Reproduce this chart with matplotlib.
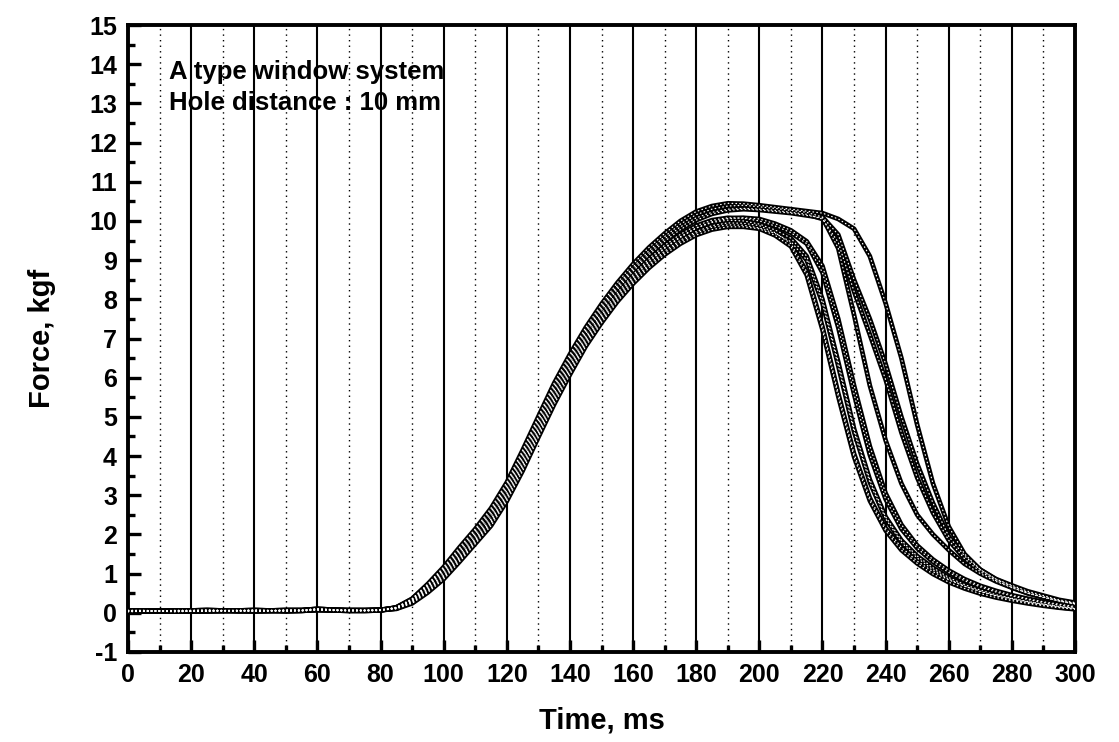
import numpy as np
import matplotlib.pyplot as plt
from matplotlib.ticker import MultipleLocator

plt.rcParams['font.family'] = ['Liberation Sans', 'DejaVu Sans']
plt.rcParams['font.weight'] = 'bold'
plt.rcParams['axes.unicode_minus'] = False

# vreme uzorkovanja, ms
time_ms = np.arange(0, 305, 5)

# sila, kgf -- 10 ponavljanja (ocitano sa slike)
run_1 = [0.05, 0.04, 0.05, 0.05, 0.04, 0.05, 0.05, 0.06, 0.05, 0.05, 0.06, 0.06, 0.09, 0.07, 0.06, 0.06, 0.07,
         0.10, 0.24, 0.52, 0.86, 1.30, 1.76, 2.22, 2.85, 3.62, 4.48, 5.32, 6.08, 6.80, 7.40, 7.94, 8.40, 8.80,
         9.14, 9.42, 9.64, 9.78, 9.85, 9.85,
         9.80, 9.63, 9.35, 8.62, 7.22, 5.52, 3.98, 2.86, 2.10, 1.60, 1.26, 0.99, 0.78, 0.62, 0.49, 0.39, 0.31,
         0.24, 0.18, 0.13, 0.09]
run_2 = [0.03, 0.04, 0.04, 0.03, 0.04, 0.04, 0.05, 0.04, 0.04, 0.05, 0.04, 0.05, 0.07, 0.06, 0.05, 0.05, 0.06,
         0.11, 0.27, 0.57, 0.93, 1.38, 1.83, 2.31, 2.95, 3.74, 4.59, 5.44, 6.19, 6.90, 7.50, 8.03, 8.49, 8.89,
         9.23, 9.51, 9.73, 9.88, 9.95, 9.94,
         9.88, 9.70, 9.42, 8.70, 7.30, 5.60, 4.06, 2.93, 2.16, 1.67, 1.32, 1.05, 0.84, 0.68, 0.55, 0.44, 0.36,
         0.28, 0.22, 0.16, 0.12]
run_3 = [0.06, 0.06, 0.05, 0.06, 0.06, 0.07, 0.06, 0.06, 0.07, 0.06, 0.07, 0.07, 0.10, 0.08, 0.07, 0.07, 0.08,
         0.12, 0.30, 0.62, 1.00, 1.45, 1.90, 2.40, 3.05, 3.85, 4.70, 5.55, 6.30, 7.00, 7.60, 8.12, 8.58, 8.98,
         9.32, 9.60, 9.82, 9.96, 10.02, 10.00,
         9.92, 9.77, 9.56, 9.10, 8.00, 6.40, 4.70, 3.40, 2.45, 1.85, 1.45, 1.15, 0.90, 0.72, 0.58, 0.46, 0.37,
         0.29, 0.22, 0.16, 0.11]
run_4 = [0.05, 0.04, 0.05, 0.05, 0.04, 0.05, 0.05, 0.06, 0.05, 0.05, 0.06, 0.06, 0.09, 0.07, 0.06, 0.06, 0.07,
         0.11, 0.26, 0.55, 0.90, 1.34, 1.79, 2.27, 2.90, 3.68, 4.53, 5.38, 6.14, 6.85, 7.45, 7.98, 8.45, 8.85,
         9.19, 9.47, 9.69, 9.84, 9.90, 9.89,
         9.82, 9.68, 9.47, 9.00, 7.90, 6.30, 4.62, 3.33, 2.40, 1.80, 1.40, 1.10, 0.86, 0.68, 0.54, 0.43, 0.34,
         0.26, 0.20, 0.14, 0.10]
run_5 = [0.03, 0.04, 0.04, 0.03, 0.04, 0.04, 0.05, 0.04, 0.04, 0.05, 0.04, 0.05, 0.07, 0.06, 0.05, 0.05, 0.06,
         0.13, 0.32, 0.66, 1.04, 1.50, 1.95, 2.46, 3.11, 3.92, 4.76, 5.61, 6.36, 7.05, 7.65, 8.17, 8.63, 9.03,
         9.38, 9.66, 9.88, 10.02, 10.08, 10.07,
         10.00, 9.87, 9.70, 9.42, 8.68, 7.28, 5.58, 4.03, 2.90, 2.14, 1.65, 1.30, 1.03, 0.82, 0.66, 0.53, 0.43,
         0.34, 0.26, 0.20, 0.14]
run_6 = [0.06, 0.06, 0.05, 0.06, 0.06, 0.07, 0.06, 0.06, 0.07, 0.06, 0.07, 0.07, 0.10, 0.08, 0.07, 0.07, 0.08,
         0.12, 0.29, 0.60, 0.96, 1.41, 1.86, 2.35, 3.00, 3.79, 4.64, 5.49, 6.25, 6.95, 7.55, 8.08, 8.54, 8.95,
         9.30, 9.58, 9.82, 9.98, 10.06, 10.08,
         10.05, 9.93, 9.76, 9.48, 8.85, 7.50, 5.80, 4.25, 3.05, 2.25, 1.72, 1.36, 1.08, 0.86, 0.69, 0.56, 0.45,
         0.36, 0.28, 0.22, 0.16]
run_7 = [0.05, 0.04, 0.05, 0.05, 0.04, 0.05, 0.05, 0.06, 0.05, 0.05, 0.06, 0.06, 0.09, 0.07, 0.06, 0.06, 0.07,
         0.13, 0.33, 0.68, 1.08, 1.55, 2.00, 2.52, 3.17, 3.98, 4.83, 5.68, 6.42, 7.12, 7.72, 8.25, 8.72, 9.13,
         9.48, 9.78, 10.02, 10.18, 10.27, 10.30,
         10.28, 10.24, 10.20, 10.14, 10.08, 9.30, 7.60, 5.80, 4.40, 3.30, 2.50, 2.00, 1.60, 1.25, 1.00, 0.80, 0.64,
         0.50, 0.40, 0.30, 0.22]
run_8 = [0.03, 0.04, 0.04, 0.03, 0.04, 0.04, 0.05, 0.04, 0.04, 0.05, 0.04, 0.05, 0.07, 0.06, 0.05, 0.05, 0.06,
         0.14, 0.35, 0.72, 1.14, 1.63, 2.10, 2.62, 3.28, 4.10, 4.96, 5.80, 6.54, 7.22, 7.82, 8.35, 8.82, 9.24,
         9.60, 9.92, 10.16, 10.30, 10.38, 10.40,
         10.36, 10.32, 10.27, 10.22, 10.10, 9.65, 8.50, 7.50, 6.35, 5.00, 3.80, 2.80, 1.95, 1.45, 1.10, 0.85, 0.68,
         0.52, 0.41, 0.31, 0.24]
run_9 = [0.06, 0.06, 0.05, 0.06, 0.06, 0.07, 0.06, 0.06, 0.07, 0.06, 0.07, 0.07, 0.10, 0.08, 0.07, 0.07, 0.08,
         0.13, 0.34, 0.70, 1.11, 1.59, 2.05, 2.57, 3.23, 4.04, 4.90, 5.74, 6.48, 7.17, 7.77, 8.30, 8.77, 9.18,
         9.54, 9.85, 10.08, 10.22, 10.30, 10.32,
         10.30, 10.27, 10.22, 10.17, 10.05, 9.45, 8.20, 7.10, 5.95, 4.60, 3.45, 2.55, 1.85, 1.38, 1.05, 0.82, 0.65,
         0.50, 0.39, 0.30, 0.23]
run_10 = [0.05, 0.04, 0.05, 0.05, 0.04, 0.05, 0.05, 0.06, 0.05, 0.05, 0.06, 0.06, 0.09, 0.07, 0.06, 0.06, 0.07,
          0.14, 0.36, 0.74, 1.17, 1.67, 2.14, 2.67, 3.33, 4.15, 5.01, 5.86, 6.60, 7.28, 7.88, 8.42, 8.90, 9.32,
          9.68, 10.00, 10.24, 10.38, 10.45, 10.44,
          10.40, 10.35, 10.30, 10.25, 10.20, 10.05, 9.80, 9.10, 7.90, 6.50, 4.80, 3.30, 2.20, 1.50, 1.10, 0.86, 0.70,
          0.55, 0.44, 0.33, 0.26]

runs = [run_1, run_2, run_3, run_4, run_5, run_6, run_7, run_8, run_9, run_10]

fig = plt.figure(figsize=(11.19, 7.42), dpi=100)
ax = fig.add_axes([0.1144, 0.1213, 0.8463, 0.845])

for run in runs:
    # crna linija + beli tackasti sloj -> izgled niza praznih kruzica
    ax.plot(time_ms, run, "-", color="black", linewidth=3.4, zorder=3)
    ax.plot(time_ms, run, color="white", linewidth=0.9, zorder=4,
            linestyle=(0, (0.5, 2.6)), dash_capstyle="round")

ax.set_xlim(0, 300)
ax.set_ylim(-1, 15)
ax.xaxis.set_major_locator(MultipleLocator(20))
ax.xaxis.set_minor_locator(MultipleLocator(10))
ax.yaxis.set_major_locator(MultipleLocator(1))
ax.yaxis.set_minor_locator(MultipleLocator(0.5))

ax.grid(axis="x", which="major", color="black", linestyle="-", linewidth=1.5)
ax.grid(axis="x", which="minor", color="black", linestyle=(0, (1, 3)), linewidth=1.0)

ax.tick_params(which="both", direction="in", top=False, right=False, width=2.4)
ax.tick_params(which="major", length=9, labelsize=18, pad=8)
ax.tick_params(which="minor", length=5)

for s in ax.spines.values():
    s.set_linewidth(2.8)

ax.set_xlabel("Time, ms", fontsize=21, fontweight="bold", labelpad=14)
ax.set_ylabel("Force, kgf", fontsize=21, fontweight="bold", labelpad=24)

ax.text(13, 13.8, "A type window system", fontsize=18.5, fontweight="bold", va="center")
ax.text(13, 13.0, "Hole distance : 10 mm", fontsize=18.5, fontweight="bold", va="center")

fig.savefig("out.png", dpi=100)
